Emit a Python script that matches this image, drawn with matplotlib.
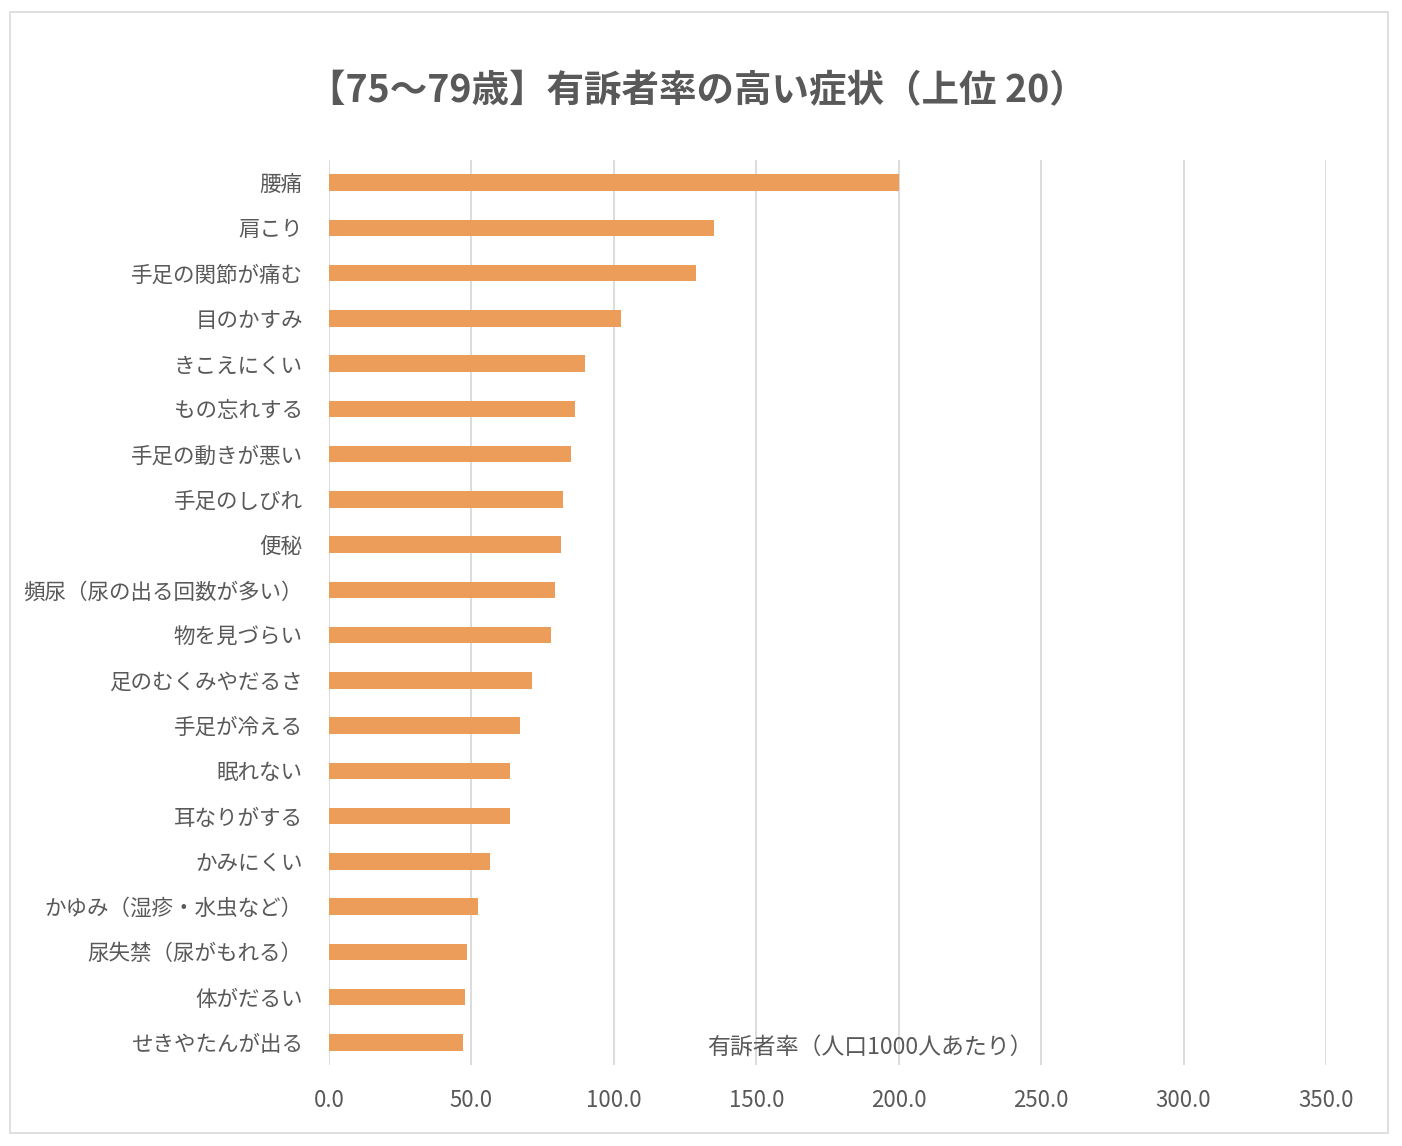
import matplotlib
matplotlib.use("Agg")
import matplotlib.pyplot as plt
from matplotlib.patches import Rectangle

plt.rcParams['font.family'] = ['Noto Sans CJK JP', 'DejaVu Sans']

categories = ["腰痛", "肩こり", "手足の関節が痛む", "目のかすみ", "きこえにくい",
              "もの忘れする", "手足の動きが悪い", "手足のしびれ", "便秘",
              "頻尿（尿の出る回数が多い）", "物を見づらい", "足のむくみやだるさ",
              "手足が冷える", "眠れない", "耳なりがする", "かみにくい",
              "かゆみ（湿疹・水虫など）", "尿失禁（尿がもれる）", "体がだるい",
              "せきやたんが出る"]
values = [200.0, 135.1, 128.9, 102.4, 90.0, 86.4, 85.1, 82.3, 81.6, 79.5,
          78.1, 71.1, 67.0, 63.6, 63.6, 56.6, 52.4, 48.4, 47.6, 47.0]
xticks = [0, 50, 100, 150, 200, 250, 300, 350]
title = "【75～79歳】有訴者率の高い症状（上位 20）"
xlabel = "有訴者率（人口1000人あたり）"

W, H = 1402, 1146
fig = plt.figure(figsize=(W / 100, H / 100), dpi=100)
fig.patch.set_facecolor("white")

# outer border
fig.add_artist(Rectangle((10 / W, 1 - 1133 / H), (1388 - 10) / W, (1133 - 12) / H,
                         transform=fig.transFigure, fill=False, edgecolor="#D9D9D9", lw=1.2))

left, right = 329, 1326
top, bottom = 160, 1065
ax = fig.add_axes([left / W, 1 - bottom / H, (right - left) / W, (bottom - top) / H])

n = len(categories)
ypos = list(range(n))
ax.barh(ypos, values, height=0.36, color="#EB9D59", zorder=3)
ax.set_ylim(n - 0.5, -0.5)
ax.set_xlim(0, 350)
ax.set_xticks(xticks)
ax.set_xticklabels([f"{v:.1f}" for v in xticks], fontsize=16, color="#595959")
ax.set_yticks(ypos)
ax.set_yticklabels(categories, fontsize=15.5, color="#595959")
ax.tick_params(axis="both", length=0)
ax.tick_params(axis="x", pad=17)
ax.tick_params(axis="y", pad=19)
ax.grid(axis="x", color="#D9D9D9", lw=1.3, zorder=0)
for s in ax.spines.values():
    s.set_visible(False)

ax.text(190, 19.1, xlabel, fontsize=16.5, color="#595959", ha="center", va="center")

fig.text(697 / W, 1 - 91 / H, title, fontsize=27, color="#595959",
         ha="center", va="center", fontweight="bold")

fig.savefig("out.png", dpi=100, facecolor="white")
